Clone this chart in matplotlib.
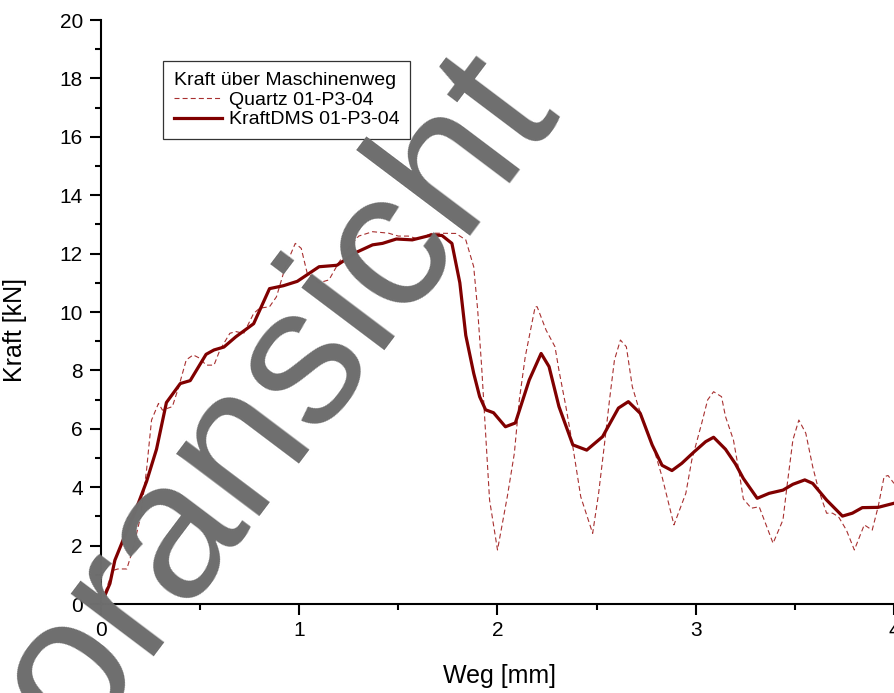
import matplotlib
matplotlib.use("Agg")
import matplotlib.pyplot as plt

plt.rcParams['font.family'] = ['Liberation Sans', 'DejaVu Sans']

# KraftDMS 01-P3-04 (solid)
dms_x = [0.02, 0.045, 0.07, 0.13, 0.18, 0.23, 0.28, 0.33, 0.40, 0.45, 0.53, 0.57,
         0.62, 0.68, 0.77, 0.85, 0.92, 0.99, 1.10, 1.19, 1.29, 1.37, 1.42, 1.49,
         1.57, 1.67, 1.72, 1.77, 1.81, 1.84, 1.88, 1.91, 1.94, 1.98, 2.04, 2.09,
         2.16, 2.22, 2.26, 2.31, 2.38, 2.45, 2.53, 2.61, 2.66, 2.72, 2.78, 2.83,
         2.88, 2.93, 2.99, 3.05, 3.09, 3.15, 3.20, 3.24, 3.31, 3.37, 3.44, 3.49,
         3.55, 3.59, 3.66, 3.74, 3.79, 3.84, 3.92, 4.00]
dms_y = [0.3, 0.7, 1.5, 2.5, 3.3, 4.2, 5.3, 6.9, 7.55, 7.65, 8.55, 8.7,
         8.8, 9.15, 9.6, 10.8, 10.9, 11.05, 11.55, 11.6, 12.05, 12.3, 12.35, 12.5,
         12.47, 12.64, 12.62, 12.35, 11.0, 9.2, 7.9, 7.1, 6.65, 6.55, 6.07, 6.2,
         7.67, 8.58, 8.13, 6.76, 5.45, 5.27, 5.73, 6.71, 6.93, 6.53, 5.45, 4.75,
         4.57, 4.82, 5.2, 5.56, 5.71, 5.3, 4.8, 4.3, 3.62, 3.79, 3.9, 4.1,
         4.25, 4.13, 3.56, 3.01, 3.11, 3.3, 3.31, 3.45]

# Quartz 01-P3-04 (dashed)
qz_x = [0.02, 0.06, 0.085, 0.13, 0.16, 0.20, 0.23, 0.24, 0.255, 0.29, 0.31, 0.36,
        0.39, 0.43, 0.465, 0.50, 0.53, 0.57, 0.60, 0.65, 0.68, 0.72, 0.77, 0.80,
        0.85, 0.885, 0.93, 0.98, 1.01, 1.04, 1.10, 1.15, 1.20, 1.26, 1.30, 1.37,
        1.45, 1.50, 1.55, 1.60, 1.67, 1.79, 1.84, 1.88, 1.90, 1.92, 1.935, 1.95,
        1.96, 2.00, 2.05, 2.085, 2.11, 2.14, 2.19, 2.20, 2.245, 2.29, 2.31, 2.345,
        2.38, 2.42, 2.48, 2.51, 2.54, 2.565, 2.59, 2.62, 2.65, 2.68, 2.71, 2.76,
        2.80, 2.83, 2.89, 2.95, 2.98, 3.03, 3.06, 3.09, 3.13, 3.15, 3.19, 3.22,
        3.24, 3.28, 3.32, 3.39, 3.44, 3.46, 3.49, 3.52, 3.555, 3.59, 3.62, 3.66,
        3.69, 3.72, 3.76, 3.80, 3.85, 3.89, 3.92, 3.95, 3.97, 4.00]
qz_y = [0.4, 1.15, 1.2, 1.2, 1.85, 3.0, 4.6, 5.3, 6.3, 6.87, 6.64, 6.76,
        7.39, 8.36, 8.53, 8.41, 8.18, 8.18, 8.7, 9.27, 9.33, 9.27, 9.95, 10.13,
        10.18, 10.52, 11.55, 12.35, 12.18, 11.33, 11.0, 11.1, 11.7, 12.3, 12.6, 12.75,
        12.7, 12.6, 12.6, 12.5, 12.7, 12.69, 12.47, 11.55, 10.07, 8.13, 6.42, 4.7,
        3.56, 1.85, 3.7, 5.16, 6.99, 8.47, 10.18, 10.18, 9.38, 8.81, 8.0, 6.76,
        5.39, 3.67, 2.42, 3.79, 5.5, 6.99, 8.36, 9.04, 8.81, 7.44, 6.76, 5.85,
        5.05, 4.36, 2.71, 3.79, 4.93, 6.19, 6.99, 7.27, 7.1, 6.42, 5.62, 4.47,
        3.6, 3.28, 3.33, 2.08, 2.88, 4.02, 5.62, 6.3, 5.85, 4.7, 3.9, 3.11,
        3.11, 2.99, 2.53, 1.85, 2.71, 2.53, 3.33, 4.36, 4.4, 4.13]

x_ticks = [0, 1, 2, 3, 4]
y_ticks = [0, 2, 4, 6, 8, 10, 12, 14, 16, 18, 20]

fig = plt.figure(figsize=(8.95, 6.93), dpi=100)
ax = fig.add_axes([101 / 895, 1 - 604 / 693, 793 / 895, 584 / 693])

ax.plot(qz_x, qz_y, color='#a83030', lw=0.8, dashes=(4.5, 2.8),
        label='Quartz 01-P3-04')
ax.plot(dms_x, dms_y, color='#800000', lw=2.3, solid_joinstyle='round',
        label='KraftDMS 01-P3-04')

ax.set_xlim(0, 4)
ax.set_ylim(0, 20)
ax.set_xticks(x_ticks)
ax.set_yticks(y_ticks)
ax.set_xticks([0.5, 1.5, 2.5, 3.5], minor=True)
ax.set_yticks(range(1, 20, 2), minor=True)
ax.tick_params(which='major', length=8, width=1.5, labelsize=15, pad=5)
ax.tick_params(which='minor', length=4.5, width=1.5)
ax.tick_params(axis='x', pad=4)

for side in ['top', 'right']:
    ax.spines[side].set_visible(False)
for side in ['left', 'bottom']:
    ax.spines[side].set_linewidth(1.5)

ax.set_xlabel('Weg [mm]', fontsize=18)
ax.set_ylabel('Kraft [kN]', fontsize=18)
ax.xaxis.set_label_coords(0.5025, -0.103)
ax.yaxis.set_label_coords(-0.093, 0.469)

leg = ax.legend(title='Kraft über Maschinenweg', loc='upper left',
                bbox_to_anchor=(0.078, 0.93), borderaxespad=0, fontsize=14,
                title_fontsize=14, alignment='left', fancybox=False,
                edgecolor='#333333', framealpha=1, borderpad=0.55,
                labelspacing=0.12, handlelength=2.5, handletextpad=0.35)
leg.get_frame().set_linewidth(0.9)

# watermark
fig.text(0.318, 0.305, 'Voransicht', fontsize=142, color='#6e6e6e',
         rotation=53, rotation_mode='anchor', ha='center', va='baseline')

fig.savefig('out.png', dpi=100)
